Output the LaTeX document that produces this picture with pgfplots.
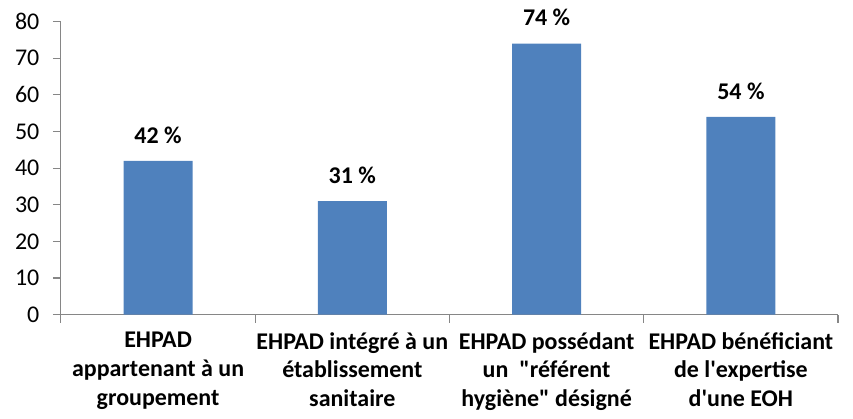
\documentclass[border=0pt]{standalone}
\usepackage{fontspec}
\setmainfont{Carlito}
\usepackage{pgfplots}
\pgfplotsset{compat=1.18}
\definecolor{barblue}{HTML}{4F81BD}
\definecolor{axisgray}{HTML}{868686}
\begin{document}
\fontsize{18pt}{21.5pt}\selectfont
\begin{tikzpicture}
\useasboundingbox (-45.75pt,-78pt) rectangle (594.75pt,236.25pt);
\begin{axis}[
    at={(0,0)}, anchor=south west,
    scale only axis,
    width=583.5pt, height=220pt,
    ybar, bar width=51.75pt,
    xmin=-0.5, xmax=3.5,
    ymin=0, ymax=80,
    ytick={0,10,...,80},
    xtick=data,
    xticklabels={
        {EHPAD\\appartenant à un\\groupement},
        {EHPAD intégré à un\\établissement\\sanitaire},
        {EHPAD possédant\\un\ \ \textquotedbl référent\\hygiène\textquotedbl\ désigné},
        {EHPAD bénéficiant\\de l\textquotesingle expertise\\d\textquotesingle une EOH}},
    minor xtick={-0.5,0.5,1.5,2.5,3.5},
    major x tick style={draw=none},
    minor x tick style={draw=axisgray, line width=0.8pt},
    minor tick length=6pt,
    major tick length=6pt,
    tick align=outside,
    axis x line*=bottom, axis y line*=left,
    axis line style={draw=axisgray, line width=0.8pt, -},
    y tick style={draw=axisgray, line width=0.8pt},
    xticklabel style={align=center, font=\bfseries, yshift=-1pt},
    yticklabel style={xshift=-4pt},
    /pgf/number format/assume math mode=true,
    nodes near coords={\pgfmathprintnumber{\pgfplotspointmeta}~\%},
    every node near coord/.append style={font=\bfseries, yshift=7pt},
    clip=false,
]
\addplot[fill=barblue, draw=none] coordinates {(0,42) (1,31) (2,74) (3,54)};
\end{axis}
\end{tikzpicture}
\end{document}
